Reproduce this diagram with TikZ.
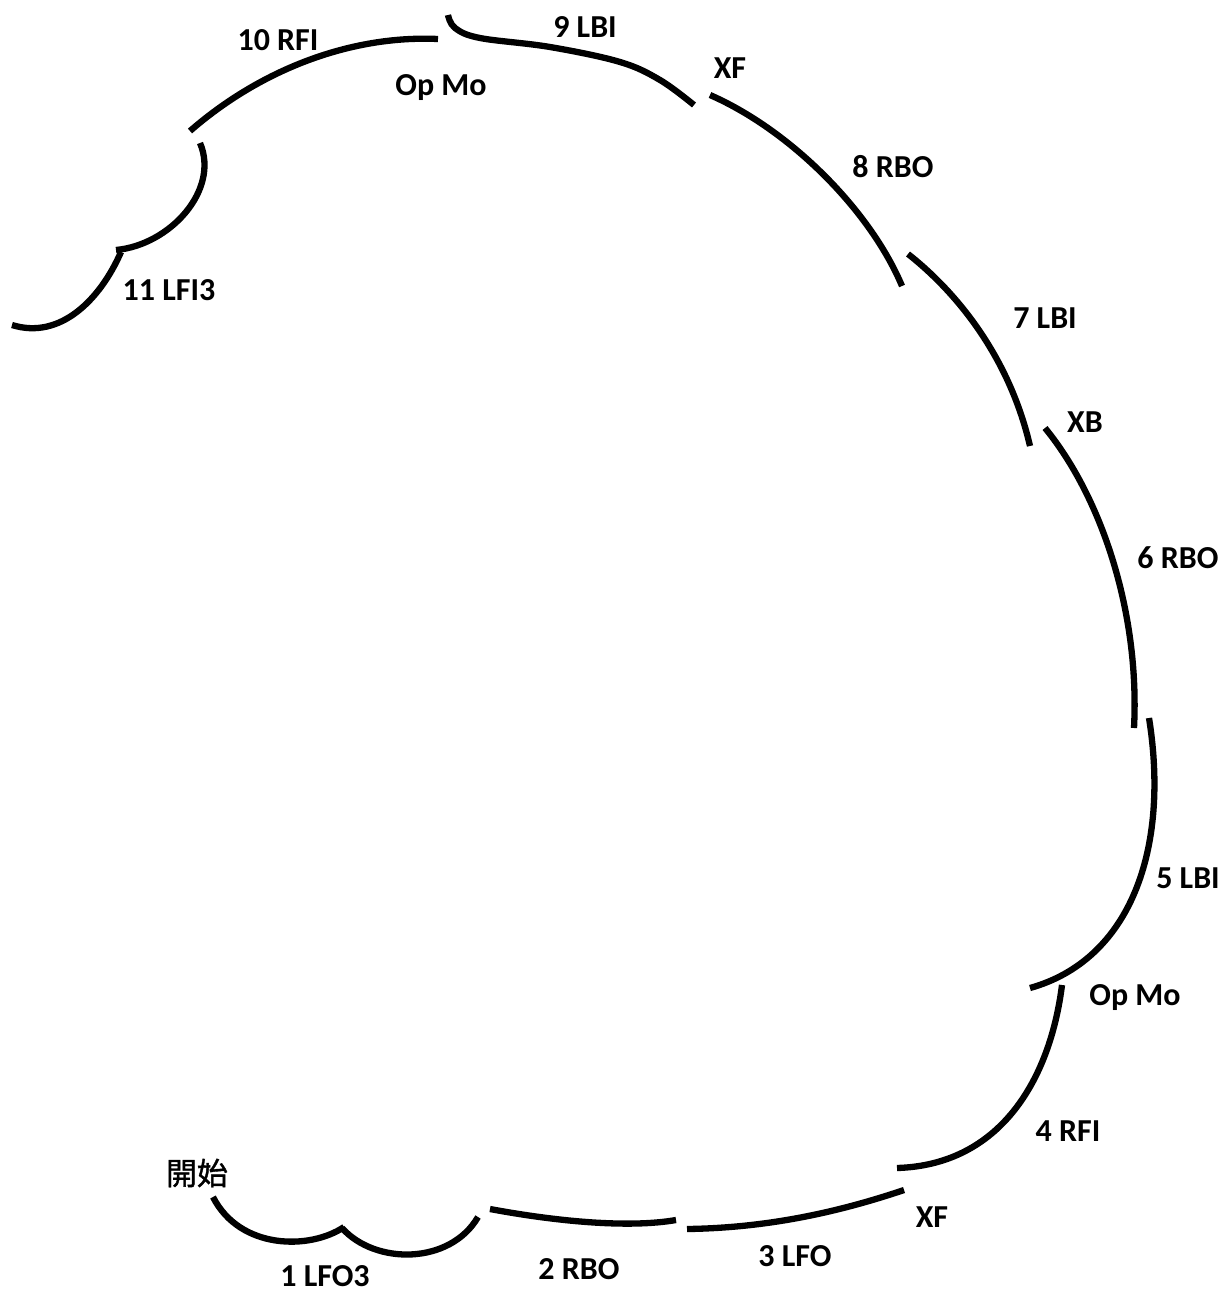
\documentclass[tikz,border=0pt]{standalone}
\usepackage{fontspec}
\setmainfont{Carlito}
\newfontfamily\cjk[FakeBold=1.2]{Noto Sans CJK TC}
\begin{document}
\begin{tikzpicture}[x=1pt,y=-1pt,
  arcline/.style={line width=6.3pt,black},
  lbl/.style={font=\bfseries\fontsize{32}{32}\selectfont,inner sep=0pt}]
\useasboundingbox[fill=white] (0,0) rectangle (1223,1293);
% 11 LFI3 loop
\draw[arcline] (12,325) .. controls (60,340) and (100,300) .. (121,252);
\draw[arcline] (116,250) .. controls (170,245) and (220,190) .. (200,143);
% 10 RFI
\draw[arcline] (190,131) .. controls (260,70) and (350,35) .. (438,39);
% 9 LBI
\draw[arcline] plot[smooth,tension=0.6] coordinates {(448,15) (455,28) (480,38) (550,47) (620,62) (660,80) (694,105)};
% 8 RBO
\draw[arcline] (710,95) .. controls (790,130) and (870,210) .. (902,286);
% 7 LBI
\draw[arcline] (908,254) .. controls (960,295) and (1010,360) .. (1030,446);
% 6 RBO
\draw[arcline] (1045,428) .. controls (1100,495) and (1140,610) .. (1134,728);
% 5 LBI
\draw[arcline] (1149,718) .. controls (1170,850) and (1130,960) .. (1030,988);
% 4 RFI
\draw[arcline] (1062,985) .. controls (1050,1080) and (1000,1165) .. (897,1168);
% 3 LFO
\draw[arcline] (904,1190) .. controls (830,1215) and (760,1228) .. (687,1229);
% 2 RBO
\draw[arcline] (490,1209) .. controls (560,1222) and (630,1228) .. (676,1220);
% 1 LFO3
\draw[arcline] (213,1197) .. controls (240,1250) and (310,1250) .. (344,1227);
\draw[arcline] (342,1228) .. controls (375,1265) and (450,1265) .. (478,1217);
% labels
\node[lbl] (l10) at (278,40) {10 RFI};
\node[lbl] (om1) at (441,88) {Op Mo};
\node[lbl] (l9) at (585,27) {9 LBI};
\node[lbl] (xf1) at (730,68) {XF};
\node[lbl] (l8) at (893,167) {8 RBO};
\node[lbl] (l7) at (1045,318) {7 LBI};
\node[lbl] (xb) at (1085,422) {XB};
\node[lbl] (l6) at (1178,558) {6 RBO};
\node[lbl] (l5) at (1188,878) {5 LBI};
\node[lbl] (om2) at (1135,998) {Op Mo};
\node[lbl] (l4) at (1068,1131) {4 RFI};
\node[lbl] (xf2) at (932,1217) {XF};
\node[lbl] (l3) at (795,1256) {3 LFO};
\node[lbl] (l2) at (579,1269) {2 RBO};
\node[lbl] (l1) at (325,1276) {1 LFO3};
\node[lbl] (l11) at (169,290) {11 LFI3};
\node[inner sep=0pt,font=\cjk\fontsize{31}{31}\selectfont] (start) at (197,1173) {開始};
\end{tikzpicture}
\end{document}
